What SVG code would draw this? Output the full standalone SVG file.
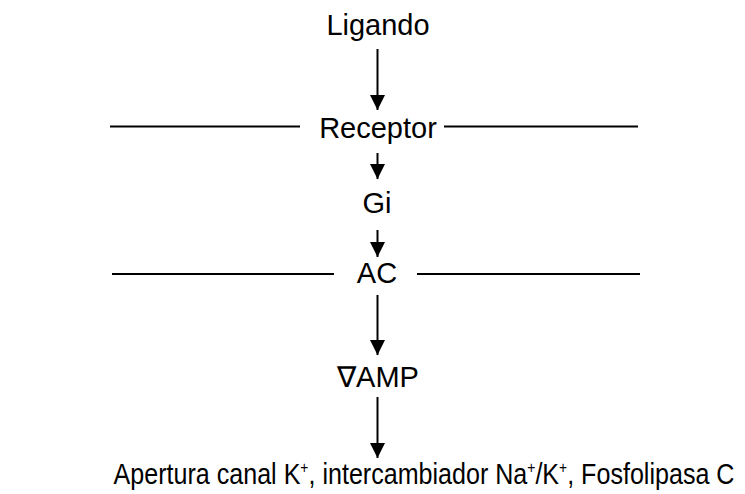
<svg xmlns="http://www.w3.org/2000/svg" width="745" height="494" viewBox="0 0 745 494">
<style>
text{font-family:"Liberation Sans",Arial,sans-serif;font-size:29px;fill:#000;text-anchor:middle}
.sup{font-size:16px}
.c line{stroke:#000;stroke-width:2}
.m{stroke:#000;stroke-width:2}
</style>
<defs>
<marker id="ah" markerUnits="userSpaceOnUse" markerWidth="16" markerHeight="16" refX="15" refY="7.5" orient="auto">
<path d="M0,0 L15,7.5 L0,15 z" fill="#000"/>
</marker>
</defs>
<rect width="745" height="494" fill="#fff"/>
<g id="membrane1"><line class="m" x1="110" y1="126.5" x2="300" y2="126.5"/><line class="m" x1="444" y1="126.5" x2="638" y2="126.5"/></g>
<g id="membrane2"><line class="m" x1="112" y1="274" x2="334" y2="274"/><line class="m" x1="417" y1="274" x2="640" y2="274"/></g>
<g id="ligando"><text x="378" y="35">Ligando</text></g>
<g id="receptor"><text x="378" y="138">Receptor</text></g>
<g id="gi"><text x="377" y="213">Gi</text></g>
<g id="ac"><text x="377" y="283">AC</text></g>
<g id="vamp"><text x="378" y="387">∇AMP</text></g>
<g id="efectos"><text transform="translate(424,484) scale(0.865,1)" x="0" y="0">Apertura canal K<tspan class="sup" dy="-11">+</tspan><tspan dy="11">, intercambiador Na</tspan><tspan class="sup" dy="-11">+</tspan><tspan dy="11">/K</tspan><tspan class="sup" dy="-11">+</tspan><tspan dy="11">, Fosfolipasa C</tspan></text></g>
<g id="connectors" class="c">
<line x1="377.5" y1="49" x2="377.5" y2="110" marker-end="url(#ah)"/>
<line x1="377.5" y1="153" x2="377.5" y2="179" marker-end="url(#ah)"/>
<line x1="377.5" y1="230" x2="377.5" y2="257" marker-end="url(#ah)"/>
<line x1="377.5" y1="295" x2="377.5" y2="355" marker-end="url(#ah)"/>
<line x1="377.5" y1="397" x2="377.5" y2="458" marker-end="url(#ah)"/>
</g>
</svg>
